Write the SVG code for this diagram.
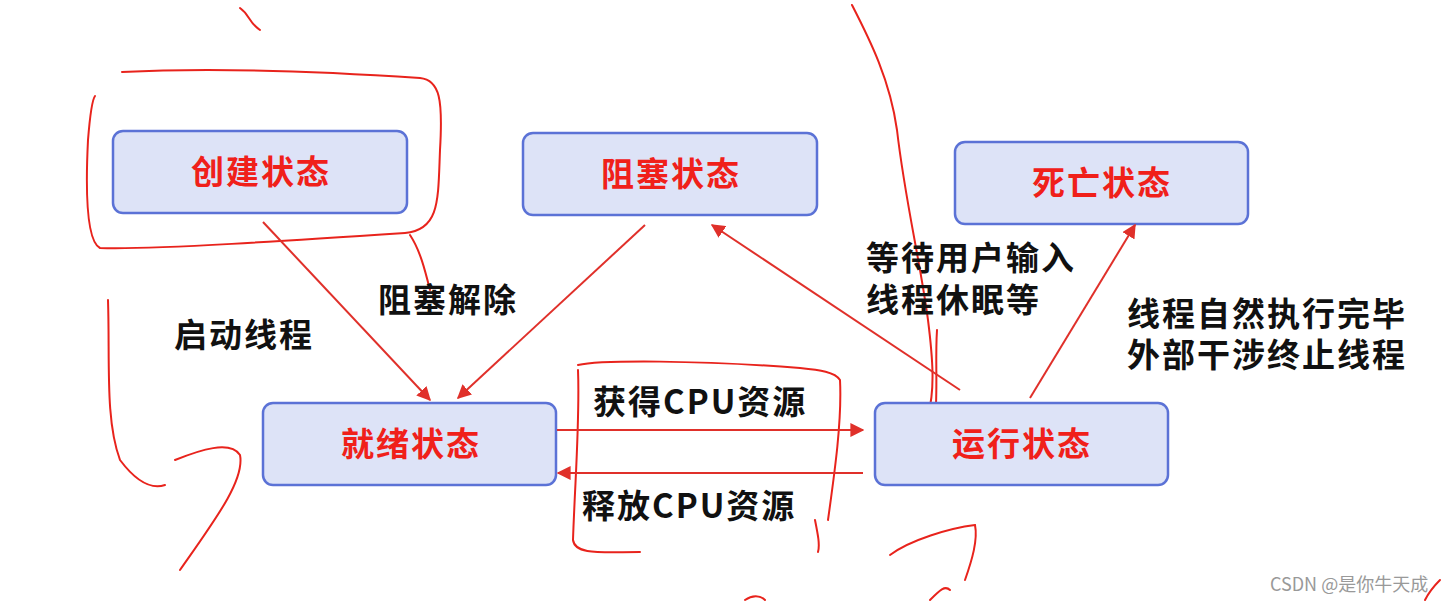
<svg xmlns="http://www.w3.org/2000/svg" width="1456" height="605" viewBox="0 0 1456 605">
<defs>
<style>
.box{fill:#dde3f7;stroke:#5b72d6;stroke-width:2.5}
.nt{font-family:"Noto Sans CJK SC",sans-serif;font-weight:bold;font-size:33px;letter-spacing:2px;fill:#f0201a;text-anchor:middle}
.lb{font-family:"Noto Sans CJK SC",sans-serif;font-weight:bold;font-size:33px;letter-spacing:2px;fill:#111}
.ar{stroke:#e0302a;stroke-width:2;fill:none;marker-end:url(#ah)}
.sc{stroke:#e8231c;stroke-width:2;fill:none;stroke-linecap:round}
</style>
<marker id="ah" viewBox="0 0 10 10" refX="9" refY="5" markerWidth="7" markerHeight="7" orient="auto"><path d="M0,0L10,5L0,10z" fill="#e0302a"/></marker>
</defs>
<rect width="1456" height="605" fill="#fff"/>
<g id="scribbles">
<path class="sc" d="M122,72 C200,68 300,70 420,78 C440,80 443,100 440,150 C438,200 440,230 405,233 C300,240 150,250 100,248 C85,240 86,180 88,140 C90,115 92,100 95,96"/>
<path class="sc" d="M240,8 C250,15 248,22 260,30"/>
<path class="sc" d="M108,300 C110,360 105,420 120,460 C135,480 150,490 165,485"/>
<path class="sc" d="M175,460 C200,450 230,440 240,455 C245,480 215,520 180,570"/>
<path class="sc" d="M578,365 C600,360 700,360 800,368 C820,370 835,372 840,380 C842,420 835,470 828,520 M815,520 C818,535 820,545 818,552"/>
<path class="sc" d="M578,370 C580,420 575,480 573,540 C575,555 600,552 640,552"/>
<path class="sc" d="M852,5 C870,40 890,80 897,130 C905,200 920,260 928,320 C933,360 935,390 928,415"/>
<path class="sc" d="M937,330 C935,360 938,390 935,420"/>
<path class="sc" d="M890,555 C910,540 950,528 975,525 C978,540 972,560 965,580"/>
<path class="sc" d="M930,600 C940,590 945,585 950,590"/>
<path class="sc" d="M745,600 C752,595 760,595 765,600"/>
<path class="sc" d="M1425,600 C1430,590 1435,585 1440,580"/>
<path class="sc" d="M410,235 C420,250 425,270 430,290"/>
</g>
<g id="n1"><rect class="box" x="113" y="131" width="294" height="82" rx="10"/><text class="nt" x="261" y="184">创建状态</text></g>
<g id="n2"><rect class="box" x="523" y="133" width="294" height="82" rx="10"/><text class="nt" x="671" y="186">阻塞状态</text></g>
<g id="n3"><rect class="box" x="955" y="142" width="293" height="82" rx="10"/><text class="nt" x="1102" y="195">死亡状态</text></g>
<g id="n4"><rect class="box" x="263" y="403" width="293" height="82" rx="10"/><text class="nt" x="411" y="456">就绪状态</text></g>
<g id="n5"><rect class="box" x="875" y="403" width="293" height="82" rx="10"/><text class="nt" x="1022" y="456">运行状态</text></g>
<g id="connectors">
<line class="ar" x1="263" y1="222" x2="430" y2="400"/>
<line class="ar" x1="645" y1="225" x2="458" y2="398"/>
<line class="ar" x1="960" y1="390" x2="712" y2="225"/>
<line class="ar" x1="1030" y1="398" x2="1135" y2="225"/>
<line class="ar" x1="557" y1="430" x2="863" y2="430"/>
<line class="ar" x1="863" y1="473" x2="558" y2="473"/>
</g>
<g id="labels">
<text class="lb" x="174" y="347">启动线程</text>
<text class="lb" x="378" y="312">阻塞解除</text>
<text class="lb" x="866" y="270">等待用户输入</text>
<text class="lb" x="866" y="312">线程休眠等</text>
<text class="lb" x="1127" y="326">线程自然执行完毕</text>
<text class="lb" x="1127" y="367">外部干涉终止线程</text>
<text class="lb" x="593" y="414">获得CPU资源</text>
<text class="lb" x="582" y="518">释放CPU资源</text>
<text x="1270" y="591" font-family="'Noto Sans CJK SC',sans-serif" font-size="18" fill="#999">CSDN @是你牛天成</text>
</g>
</svg>
